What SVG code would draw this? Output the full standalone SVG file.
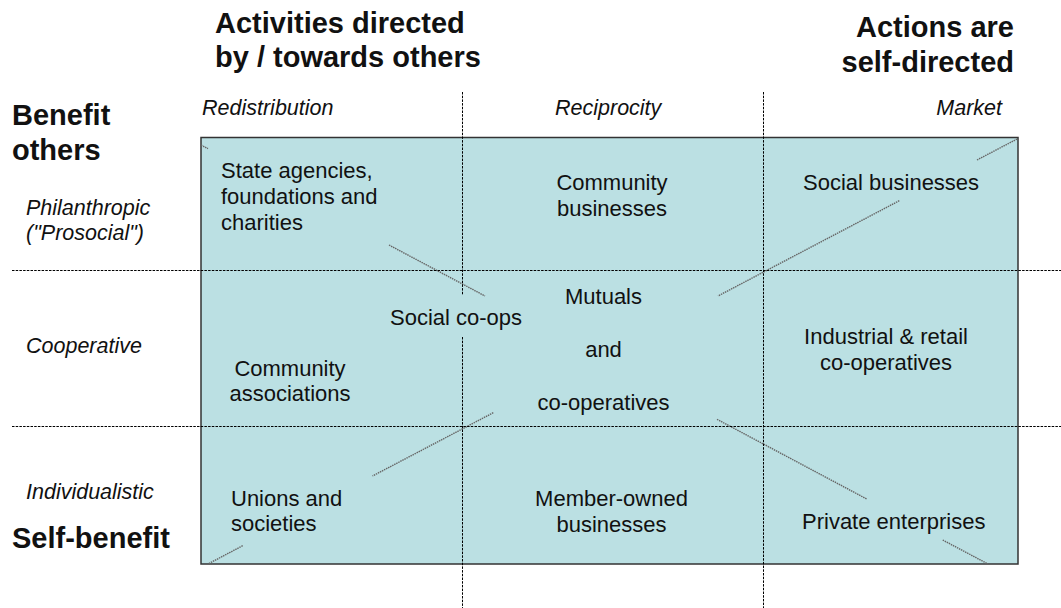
<svg xmlns="http://www.w3.org/2000/svg" width="1061" height="608" viewBox="0 0 1061 608">
<style>
text { font-family: "Liberation Sans", Arial, sans-serif; fill: #111; }
.title { font-size: 29px; font-weight: bold; }
.axis { font-size: 21.5px; font-style: italic; }
.cell { font-size: 22px; }
.mid { text-anchor: middle; }
.end { text-anchor: end; }
.grid { stroke: #000; stroke-width: 1; stroke-dasharray: 2.5 1.2; fill: none; }
.diag { stroke: #666; stroke-width: 1.4; stroke-dasharray: 1.5 0.8; fill: none; }
</style>
<rect x="0" y="0" width="1061" height="608" fill="#fff"/>
<g id="matrix">
<rect x="201" y="137.5" width="817" height="426.5" fill="#BBE0E3" stroke="#333" stroke-width="1.5"/>
</g>
<g id="connectors">
<line class="diag" x1="201" y1="145" x2="208" y2="148.7"/>
<line class="diag" x1="389" y1="245" x2="485" y2="296"/>
<line class="diag" x1="717" y1="419.3" x2="866.7" y2="499"/>
<line class="diag" x1="942.7" y1="540" x2="988" y2="564"/>
<line class="diag" x1="977" y1="160" x2="1018" y2="138.5"/>
<line class="diag" x1="899.3" y1="200.7" x2="718" y2="296"/>
<line class="diag" x1="493.3" y1="412.7" x2="372.5" y2="476"/>
<line class="diag" x1="242.7" y1="545.7" x2="208" y2="564"/>
<line class="grid" x1="12" y1="270.5" x2="1061" y2="270.5"/>
<line class="grid" x1="12" y1="426.5" x2="1061" y2="426.5"/>
<line class="grid" x1="462.5" y1="92" x2="462.5" y2="295"/>
<line class="grid" x1="462.5" y1="337" x2="462.5" y2="608"/>
<line class="grid" x1="763.5" y1="92" x2="763.5" y2="608"/>
</g>
<g id="title-others">
<text class="title" x="215" y="33">Activities directed</text>
<text class="title" x="215" y="67">by / towards others</text>
</g>
<g id="title-self">
<text class="title end" x="1014" y="37">Actions are</text>
<text class="title end" x="1014" y="72">self-directed</text>
</g>
<g id="label-benefit-others">
<text class="title" x="12" y="125">Benefit</text>
<text class="title" x="12" y="160">others</text>
</g>
<g id="label-self-benefit">
<text class="title" x="12" y="548">Self-benefit</text>
</g>
<g id="axis-philanthropic">
<text class="axis" x="26" y="215">Philanthropic</text>
<text class="axis" x="26" y="240">("Prosocial")</text>
</g>
<g id="axis-cooperative">
<text class="axis" x="26" y="353">Cooperative</text>
</g>
<g id="axis-individualistic">
<text class="axis" x="26" y="499">Individualistic</text>
</g>
<g id="axis-redistribution">
<text class="axis" x="202" y="115">Redistribution</text>
</g>
<g id="axis-reciprocity">
<text class="axis" x="555" y="115">Reciprocity</text>
</g>
<g id="axis-market">
<text class="axis end" x="1002" y="115">Market</text>
</g>
<g id="cell-state-agencies">
<text class="cell" x="221" y="178">State agencies,</text>
<text class="cell" x="221" y="204">foundations and</text>
<text class="cell" x="221" y="229.5">charities</text>
</g>
<g id="cell-community-businesses">
<text class="cell mid" x="612" y="190">Community</text>
<text class="cell mid" x="612" y="216">businesses</text>
</g>
<g id="cell-social-businesses">
<text class="cell" x="803" y="190">Social businesses</text>
</g>
<g id="cell-social-coops">
<text class="cell" x="390" y="325">Social co-ops</text>
</g>
<g id="cell-mutuals">
<text class="cell mid" x="603.5" y="304">Mutuals</text>
<text class="cell mid" x="603.5" y="357">and</text>
<text class="cell mid" x="603.5" y="410">co-operatives</text>
</g>
<g id="cell-industrial">
<text class="cell mid" x="886" y="344">Industrial &amp; retail</text>
<text class="cell mid" x="886" y="370">co-operatives</text>
</g>
<g id="cell-community-associations">
<text class="cell mid" x="290" y="376">Community</text>
<text class="cell mid" x="290" y="401">associations</text>
</g>
<g id="cell-unions">
<text class="cell" x="231" y="506">Unions and</text>
<text class="cell" x="231" y="531">societies</text>
</g>
<g id="cell-member-owned">
<text class="cell mid" x="611.5" y="506">Member-owned</text>
<text class="cell mid" x="611.5" y="532">businesses</text>
</g>
<g id="cell-private">
<text class="cell" x="802" y="529">Private enterprises</text>
</g>
</svg>
